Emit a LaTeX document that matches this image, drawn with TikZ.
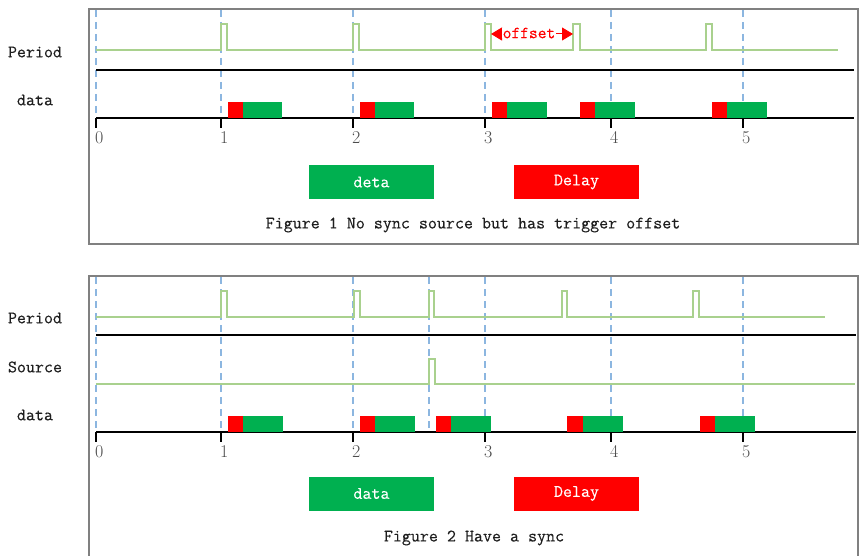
\documentclass[tikz,border=0pt]{standalone}
\usepackage{fontspec}
\setmonofont{Latin Modern Mono}[FakeBold=0.3]
\usetikzlibrary{arrows.meta}
\definecolor{sig}{RGB}{169,209,142}
\definecolor{gridc}{RGB}{140,182,224}
\definecolor{dgreen}{RGB}{0,176,80}
\definecolor{framec}{RGB}{128,128,128}
\definecolor{txt}{RGB}{30,30,30}
\begin{document}
\begin{tikzpicture}[x=1pt,y=-1pt,
  lbl/.style={font=\fontsize{17.5}{20}\selectfont\ttfamily,text=txt,inner sep=0pt},
  ticklbl/.style={font=\fontsize{18}{20}\selectfont\rmfamily,text=txt!80,inner sep=0pt,anchor=north west},
  frm/.style={draw=framec,line width=1.6pt},
  ax/.style={draw=black,line width=1.6pt},
  sg/.style={draw=sig,line width=1.3pt},
  gl/.style={draw=gridc,line width=1.1pt,dash pattern=on 7pt off 5pt},
  dly/.style={fill=red},
  dat/.style={fill=dgreen},
  legd/.style={minimum width=125pt,minimum height=34pt,inner sep=0pt,text=white,font=\fontsize{17.5}{20}\selectfont\ttfamily},
  captxt/.style={font=\fontsize{17.5}{20}\selectfont\ttfamily,text=txt,inner sep=0pt}]
\useasboundingbox (0,0) rectangle (859,556);
% ================= Figure 1 =================
\draw[frm] (89,9) rectangle (858,244);
% dashed grid
\foreach \x in {96,221,353,485,611,743} \draw[gl] (\x,10) -- (\x,118);
% axes
\draw[ax] (96,70) -- (854,70);
\draw[ax] (96,118) -- (854,118);
\foreach \x/\t in {96/0,221/1,353/2,485/3,611/4,743/5}{
  \draw[ax] (\x,118) -- (\x,128);
  \node[ticklbl] (ta\t) at (\x-1,131) {\t};
}
% period signal
\draw[sg] (96,50) -- (221,50) -- (221,24) -- (227,24) -- (227,50)
  -- (353,50) -- (353,24) -- (359,24) -- (359,50)
  -- (485,50) -- (485,24) -- (491,24) -- (491,50)
  -- (573,50) -- (573,24) -- (580,24) -- (580,50)
  -- (706,50) -- (706,24) -- (712,24) -- (712,50) -- (838,50);
% offset
\coordinate (offA) at (491,34);
\coordinate (offB) at (573,34);
\draw[red,line width=1pt,{Triangle[length=11pt,width=13pt]}-{Triangle[length=11pt,width=13pt]}] (offA) -- (offB);
\node[lbl,text=red,fill=white,inner xsep=1pt,font=\fontsize{17}{18}\selectfont\ttfamily] (offt) at (529,33) {offset};
% data bars
\foreach \a/\b/\c in {228/243/282,360/375/414,492/507/547,580/595/635,712/727/767}{
  \fill[dly] (\a,102) rectangle (\b,118);
  \fill[dat] (\b,102) rectangle (\c,118);
}
% labels
\node[lbl] (p1) at (35,52) {Period};
\node[lbl] (d1) at (35,100) {data};
% legend
\node[legd,fill=dgreen] (lg1) at (371.5,182) {deta};
\node[legd,fill=red] (lr1) at (576.5,182) {Delay};
\node[captxt] (c1) at (473,225) {Figure 1 No sync source but has trigger offset};
% ================= Figure 2 =================
\draw[frm] (89,560) -- (89,276) -- (858,276) -- (858,560);
\foreach \x in {96,221,353,429,485,611,743} \draw[gl] (\x,277) -- (\x,432);
\draw[ax] (96,335) -- (856,335);
\draw[ax] (96,432) -- (856,432);
\foreach \x/\t in {96/0,221/1,353/2,485/3,611/4,743/5}{
  \draw[ax] (\x,432) -- (\x,442);
  \node[ticklbl] (tb\t) at (\x-1,445) {\t};
}
\draw[sg] (96,317) -- (221,317) -- (221,291) -- (227,291) -- (227,317)
  -- (354,317) -- (354,291) -- (360,291) -- (360,317)
  -- (429,317) -- (429,291) -- (434,291) -- (434,317)
  -- (562,317) -- (562,291) -- (567,291) -- (567,317)
  -- (693,317) -- (693,291) -- (699,291) -- (699,317) -- (825,317);
\draw[sg] (96,384) -- (429,384) -- (429,359) -- (435,359) -- (435,384) -- (855,384);
\foreach \a/\b/\c in {228/243/283,360/375/415,436/451/491,567/583/623,700/715/755}{
  \fill[dly] (\a,416) rectangle (\b,432);
  \fill[dat] (\b,416) rectangle (\c,432);
}
\node[lbl] (p2) at (35,318) {Period};
\node[lbl] (s2) at (35,367) {Source};
\node[lbl] (d2) at (35,415) {data};
\node[legd,fill=dgreen] (lg2) at (371.5,493.5) {data};
\node[legd,fill=red] (lr2) at (576.5,493.5) {Delay};
\node[captxt] (c2) at (474,538) {Figure 2 Have a sync};
\end{tikzpicture}
\end{document}
